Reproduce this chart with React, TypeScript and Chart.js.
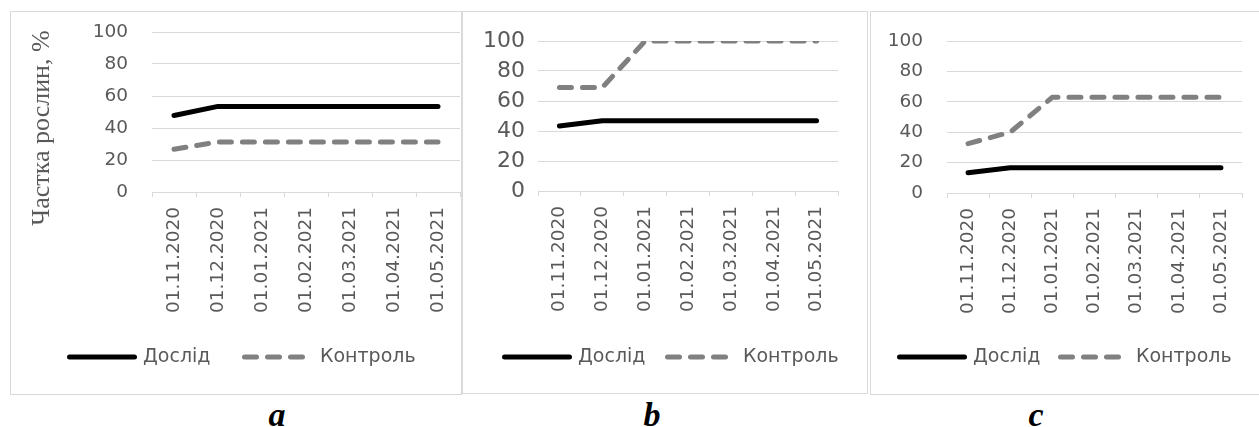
import React, { useEffect, useRef } from "react";
import { Chart, registerables } from "chart.js";

Chart.register(...registerables);

// ---- data ----
const dates = [
  "01.11.2020",
  "01.12.2020",
  "01.01.2021",
  "01.02.2021",
  "01.03.2021",
  "01.04.2021",
  "01.05.2021",
];
const seriesNames = ["Дослід", "Контроль"];
const yMin = 0;
const yMax = 100;
const yStep = 20;

const dosA = [47.8, 53.5, 53.5, 53.5, 53.5, 53.5, 53.5];
const konA = [26.7, 31.3, 31.3, 31.3, 31.3, 31.3, 31.3];
const dosB = [43.3, 46.8, 46.8, 46.8, 46.8, 46.8, 46.8];
const konB = [69, 69, 100, 100, 100, 100, 100];
const dosC = [13.3, 16.6, 16.6, 16.6, 16.6, 16.6, 16.6];
const konC = [32.5, 40, 63, 63, 63, 63, 63];

const panelLetters = ["a", "b", "c"];
const yTitle = "Частка рослин, %";

// ---- styles ----
const TICK_COLOR = "#595959";
const GRID_COLOR = "#d9d9d9";
const SANS = '"DejaVu Sans"';

type Panel = {
  border: { left: number; top: number; w: number; h: number };
  canvas: { left: number; top: number; w: number; h: number };
  area: { left: number; top: number; right: number; bottom: number };
  yTickPad: number;
  yFontSize: number;
  legendXs: number[];
  dos: number[];
  kon: number[];
  letterX: number;
};

const panels: Panel[] = [
  {
    border: { left: 10, top: 11, w: 450, h: 382 },
    canvas: { left: 11, top: 12, w: 450, h: 382 },
    area: { left: 141, top: 20, right: 449, bottom: 180 },
    yTickPad: 24,
    yFontSize: 18.5,
    legendXs: [56, 231],
    dos: dosA,
    kon: konA,
    letterX: 277,
  },
  {
    border: { left: 462, top: 11, w: 404, h: 381 },
    canvas: { left: 463, top: 12, w: 404, h: 381 },
    area: { left: 75, top: 29, right: 375, bottom: 179 },
    yTickPad: 13,
    yFontSize: 22,
    legendXs: [39, 202],
    dos: dosB,
    kon: konB,
    letterX: 652,
  },
  {
    border: { left: 870, top: 11, w: 400, h: 382 },
    canvas: { left: 871, top: 12, w: 400, h: 382 },
    area: { left: 76, top: 29, right: 371, bottom: 181 },
    yTickPad: 24,
    yFontSize: 18.5,
    legendXs: [26, 187],
    dos: dosC,
    kon: konC,
    letterX: 1036,
  },
];

const legendPlugin = {
  id: "panelLegend",
  afterDraw(chart: any, _args: any, opts: any) {
    const ctx = chart.ctx;
    const y = opts.y;
    chart.data.datasets.forEach((ds: any, i: number) => {
      const x0 = opts.xs[i];
      ctx.save();
      ctx.strokeStyle = ds.borderColor;
      ctx.lineWidth = ds.borderWidth;
      ctx.lineCap = "round";
      ctx.setLineDash(ds.borderDash || []);
      const len = ds.borderDash ? 58 : 65;
      ctx.beginPath();
      ctx.moveTo(x0 + 2.5, y);
      ctx.lineTo(x0 + 2.5 + len, y);
      ctx.stroke();
      ctx.restore();
      ctx.save();
      ctx.fillStyle = TICK_COLOR;
      ctx.font = `19px ${SANS}`;
      ctx.textBaseline = "middle";
      ctx.textAlign = "left";
      ctx.fillText(ds.label, x0 + (ds.borderDash ? 78 : 76), y);
      ctx.restore();
    });
  },
};

function PanelChart({ p }: { p: Panel }) {
  const ref = useRef<HTMLCanvasElement | null>(null);
  useEffect(() => {
    if (!ref.current) return;
    const { canvas, area } = p;
    const chart = new Chart(ref.current, {
      type: "line",
      data: {
        labels: dates,
        datasets: [
          {
            label: seriesNames[0],
            data: p.dos,
            borderColor: "#000000",
            backgroundColor: "#000000",
            borderWidth: 5,
            borderCapStyle: "round",
            borderJoinStyle: "round",
            pointRadius: 0,
            tension: 0,
            fill: false,
          },
          {
            label: seriesNames[1],
            data: p.kon,
            borderColor: "#808080",
            backgroundColor: "#808080",
            borderWidth: 5,
            borderDash: [12, 11],
            borderCapStyle: "round",
            borderJoinStyle: "round",
            pointRadius: 0,
            tension: 0,
            fill: false,
          },
        ],
      },
      options: {
        animation: false,
        responsive: false,
        maintainAspectRatio: false,
        devicePixelRatio: 1,
        layout: {
          padding: { left: 0, top: area.top, right: canvas.w - area.right, bottom: 0 },
        },
        plugins: {
          legend: { display: false },
          tooltip: { enabled: false },
          title: { display: false },
          panelLegend: { xs: p.legendXs, y: 345 },
        } as any,
        scales: {
          x: {
            type: "category",
            offset: true,
            grid: {
              offset: true,
              drawOnChartArea: false,
              drawTicks: true,
              tickLength: 5,
              color: GRID_COLOR,
              lineWidth: 1,
            },
            border: { display: true, color: GRID_COLOR, width: 1 },
            ticks: {
              autoSkip: false,
              minRotation: 90,
              maxRotation: 90,
              padding: 10,
              color: TICK_COLOR,
              font: { family: SANS, size: 18.5 },
            },
            afterFit: (s: any) => {
              s.height = canvas.h - area.bottom;
              s.paddingLeft = 0;
              s.paddingRight = 0;
            },
          },
          y: {
            min: yMin,
            max: yMax,
            grid: { color: GRID_COLOR, lineWidth: 1, drawTicks: false },
            border: { display: false },
            ticks: {
              stepSize: yStep,
              padding: p.yTickPad,
              color: TICK_COLOR,
              font: { family: SANS, size: p.yFontSize },
            },
            afterFit: (s: any) => {
              s.width = area.left;
              s.paddingTop = 0;
              s.paddingBottom = 0;
            },
          },
        },
      } as any,
      plugins: [legendPlugin as any],
    });
    return () => chart.destroy();
  }, [p]);
  return (
    <canvas
      ref={ref}
      width={p.canvas.w}
      height={p.canvas.h}
      style={{
        position: "absolute",
        left: p.canvas.left,
        top: p.canvas.top,
        width: p.canvas.w,
        height: p.canvas.h,
      }}
    />
  );
}

export default function App() {
  return (
    <div
      style={{
        position: "absolute",
        left: 0,
        top: 0,
        width: 1259,
        height: 427,
        overflow: "hidden",
        background: "#ffffff",
      }}
    >
      {panels.map((p, i) => (
        <div
          key={"b" + i}
          style={{
            position: "absolute",
            left: p.border.left,
            top: p.border.top,
            width: p.border.w,
            height: p.border.h,
            border: `1px solid ${GRID_COLOR}`,
          }}
        />
      ))}
      {panels.map((p, i) => (
        <PanelChart key={"c" + i} p={p} />
      ))}
      <div
        style={{
          position: "absolute",
          left: 41 - 120,
          top: 127.5 - 15,
          width: 240,
          height: 30,
          lineHeight: "30px",
          textAlign: "center",
          whiteSpace: "nowrap",
          transform: "rotate(-90deg)",
          fontFamily: '"Liberation Serif", serif',
          fontSize: 26,
          color: TICK_COLOR,
        }}
      >
        {yTitle}
      </div>
      {panels.map((p, i) => (
        <div
          key={"l" + i}
          style={{
            position: "absolute",
            left: p.letterX - 30,
            top: 397.5,
            width: 60,
            textAlign: "center",
            fontFamily: '"Liberation Serif", serif',
            fontWeight: "bold",
            fontStyle: "italic",
            fontSize: 34,
            lineHeight: "34px",
            color: "#000000",
          }}
        >
          {panelLetters[i]}
        </div>
      ))}
    </div>
  );
}
